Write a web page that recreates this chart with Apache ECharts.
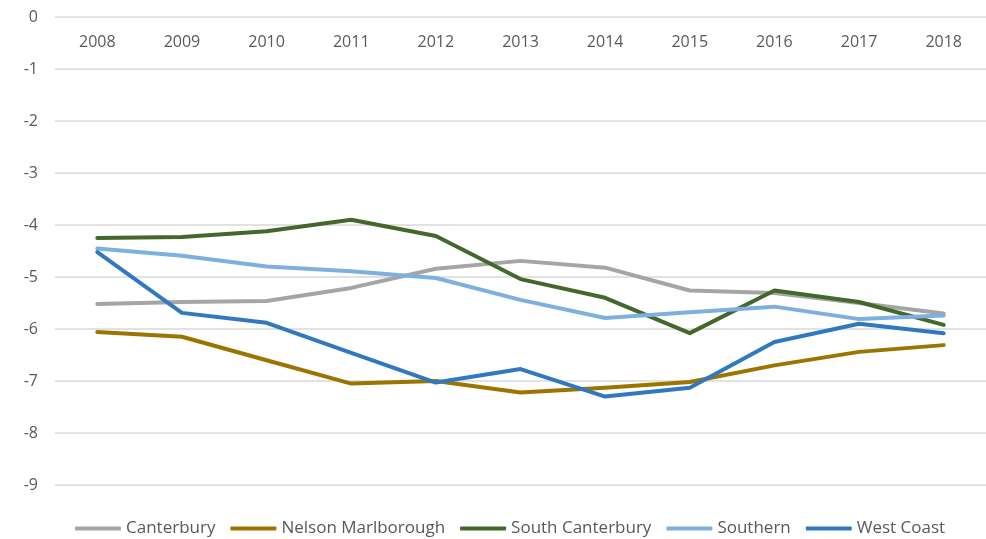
<!DOCTYPE html>
<html>
<head>
<meta charset="utf-8">
<script src="https://cdn.jsdelivr.net/npm/echarts@6/dist/echarts.min.js"></script>
<style>
  html, body { margin: 0; padding: 0; background: #fff; }
  #chart { width: 986px; height: 539px; }
</style>
</head>
<body>
<div id="chart"></div>
<script>
// 年份
var years = ['2008', '2009', '2010', '2011', '2012', '2013', '2014', '2015', '2016', '2017', '2018'];

// 各地区数据
var canterbury      = [-5.52, -5.48, -5.46, -5.21, -4.84, -4.69, -4.82, -5.26, -5.31, -5.50, -5.70];
var nelsonMarlb     = [-6.06, -6.15, -6.60, -7.05, -7.00, -7.22, -7.13, -7.02, -6.70, -6.44, -6.31];
var southCanterbury = [-4.25, -4.23, -4.12, -3.90, -4.21, -5.04, -5.40, -6.08, -5.26, -5.48, -5.92];
var southern        = [-4.45, -4.59, -4.80, -4.89, -5.02, -5.44, -5.79, -5.68, -5.57, -5.81, -5.74];
var westCoast       = [-4.52, -5.69, -5.88, -6.46, -7.03, -6.77, -7.30, -7.13, -6.25, -5.90, -6.08];

var chart = echarts.init(document.getElementById('chart'));

function line(name, data, color) {
    return {
        name: name,
        type: 'line',
        data: data,
        symbol: 'none',
        lineStyle: { width: 4, color: color, cap: 'round', join: 'round' },
        itemStyle: { color: color }
    };
}

chart.setOption({
    animation: false,
    textStyle: { fontFamily: 'Open Sans' },
    grid: { left: 55, right: -5, top: 17, bottom: 54 },
    legend: {
        top: 515,
        left: 70,
        icon: 'roundRect',
        itemWidth: 46,
        itemHeight: 4,
        itemGap: 15,
        textStyle: { fontSize: 17, color: '#595959', fontFamily: 'Open Sans' }
    },
    xAxis: {
        type: 'category',
        data: years,
        position: 'top',
        axisLine: { show: false },
        axisTick: { show: false },
        axisLabel: { inside: true, margin: 17, fontSize: 16, color: '#595959' }
    },
    yAxis: {
        type: 'value',
        min: -9,
        max: 0,
        interval: 1,
        axisLine: { show: false },
        axisTick: { show: false },
        axisLabel: { margin: 17, fontSize: 16, color: '#595959' },
        splitLine: { lineStyle: { color: '#d9d9d9', width: 1.5 } }
    },
    series: [
        line('Canterbury', canterbury, '#a5a5a5'),
        line('Nelson Marlborough', nelsonMarlb, '#9c7400'),
        line('South Canterbury', southCanterbury, '#43682b'),
        line('Southern', southern, '#7eb0df'),
        line('West Coast', westCoast, '#3079c0')
    ]
});
</script>
</body>
</html>
